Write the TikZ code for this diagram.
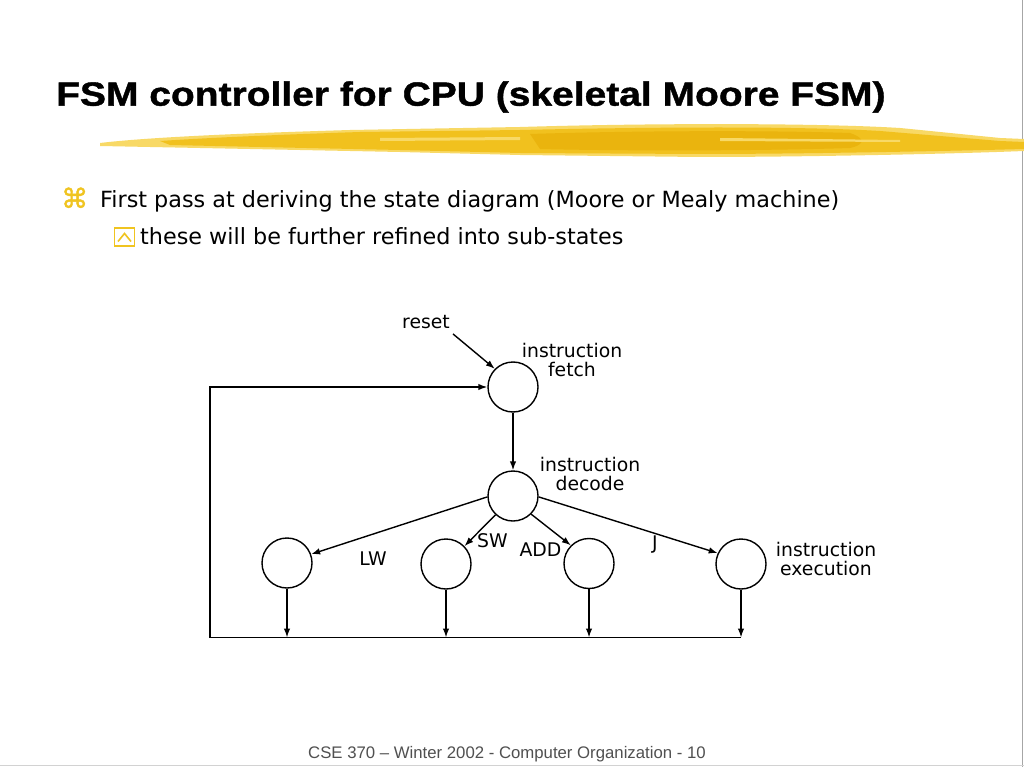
\documentclass[tikz,border=0pt]{standalone}
\usepackage{fontspec}
\setmainfont{DejaVu Sans}
\newfontfamily\titlefont[FakeStretch=1.16,FakeBold=1.2]{Liberation Sans}
\newfontfamily\footfont{Liberation Sans}
\newfontfamily\symfont[FakeBold=1.5]{DejaVu Sans}
\usetikzlibrary{arrows.meta}
\definecolor{hlgold}{RGB}{241,193,30}
\definecolor{hllight}{RGB}{248,217,102}
\definecolor{hldark}{RGB}{234,180,14}
\definecolor{bulyel}{RGB}{240,196,32}
\definecolor{footgray}{RGB}{80,80,80}
\tikzset{
  arr/.style={-{Latex[length=9pt,width=6.5pt]}, line width=1.4pt},
  st/.style={circle, draw, line width=1.4pt, minimum size=50pt, inner sep=0pt},
  lbl/.style={inner sep=0pt, align=center, font=\fontsize{18.8}{19.8}\selectfont},
  bul/.style={inner sep=0pt, anchor=base west, font=\fontsize{22.3}{27}\selectfont},
}
\begin{document}
\begin{tikzpicture}[x=1pt,y=-1pt]
\useasboundingbox (0,0) rectangle (1024,767);
\fill[white] (0,0) rectangle (1024,767);
% frame shadow
\draw[gray!70, line width=1.5pt] (1022.5,0) -- (1022.5,767);
\draw[gray!35, line width=1pt] (0,765.5) -- (1024,765.5);
% highlighter stroke
\fill[hllight] (100,143) .. controls (150,137) and (250,133) .. (350,130) -- (520,127)
  .. controls (650,123) and (820,123) .. (900,128) -- (1000,138) -- (1024,139) -- (1024,151)
  .. controls (950,154) and (800,157) .. (700,157) -- (520,155) -- (400,152) -- (250,149)
  -- (150,147) -- (100,146) -- cycle;
\fill[hlgold] (160,141) .. controls (220,137) and (300,134) .. (360,132) -- (520,130)
  .. controls (650,127) and (800,126) .. (880,131) -- (1000,141) -- (1024,142) -- (1024,149)
  .. controls (950,151) and (800,154) .. (700,154) -- (520,153) -- (400,150) -- (260,147)
  -- (170,145) -- cycle;
\fill[hldark] (530,134) .. controls (620,131) and (760,130) .. (850,133)
  .. controls (870,140) and (860,146) .. (850,148) .. controls (760,151) and (620,151) .. (540,149) -- cycle;
\fill[hllight] (380,138) -- (520,137) -- (520,140) -- (380,141) -- cycle;
\fill[hllight] (720,138) -- (900,140) -- (900,142) -- (720,141) -- cycle;
% title
\node[inner sep=0pt, anchor=base west, font=\titlefont\bfseries\fontsize{33.6}{36}\selectfont] (title) at (56,105.7) {FSM controller for CPU (skeletal Moore FSM)};
% bullets
\node[inner sep=0pt, anchor=base west, text=bulyel, font=\symfont\fontsize{27}{30}\selectfont] (sym1) at (61,208) {⌘};
\node[bul] (b1) at (100,207.5) {First pass at deriving the state diagram (Moore or Mealy machine)};
\node[draw=bulyel, line width=1.8pt, minimum width=20pt, minimum height=18pt, inner sep=0pt] (sym2) at (124.5,237) {};
\draw[bulyel, line width=1.6pt] ([shift={(-6.5,4.5)}]sym2.center) -- ([shift={(0,-3.5)}]sym2.center) -- ([shift={(6.5,4.5)}]sym2.center);
\node[bul] (b2) at (140,244) {these will be further refined into sub-states};
% states
\node[st] (fetch) at (513,387) {};
\node[st] (dec) at (513,496) {};
\node[st] (lw) at (287,563) {};
\node[st] (sw) at (446,564) {};
\node[st] (add) at (589,563.5) {};
\node[st] (j) at (741,564) {};
% labels
\node[lbl] (reset) at (426,322) {reset};
\node[lbl] (lfetch) at (572,360) {instruction\\fetch};
\node[lbl] (ldec) at (590,474) {instruction\\decode};
\node[lbl] (lexec) at (826,559) {instruction\\execution};
\node[lbl] (llw) at (373,559) {LW};
\node[lbl] (lsw) at (492.5,540.5) {SW};
\node[lbl] (ladd) at (540.5,549.5) {ADD};
\node[lbl] (lj) at (655,545) {J};
% connectors
\draw[arr] ([shift={(3,5)}]reset.south east) -- (fetch.135);
\draw[arr] (fetch) -- (dec);
\draw[arr] (dec.182) -- (lw.20);
\draw[arr] (dec.227) -- (sw.44);
\draw[arr] (dec.315) -- (add.135);
\draw[arr] (dec.358) -- (j.155);
\coordinate (busR) at (741,637.5);
\coordinate (busL) at (210,637.5);
\coordinate (topL) at (210,387);
\draw[line width=1.4pt] (busR) -- (busL);
\draw[arr] (busL) -- (topL) -- (fetch);
\draw[arr] (lw) -- (lw |- busL);
\draw[arr] (sw) -- (sw |- busL);
\draw[arr] (add) -- (add |- busL);
\draw[arr] (j) -- (j |- busL);
% footer
\node[inner sep=0pt, anchor=base west, text=footgray, font=\footfont\fontsize{16.75}{19}\selectfont] (foot) at (308,758) {CSE 370 – Winter 2002 - Computer Organization - 10};
\end{tikzpicture}
\end{document}
